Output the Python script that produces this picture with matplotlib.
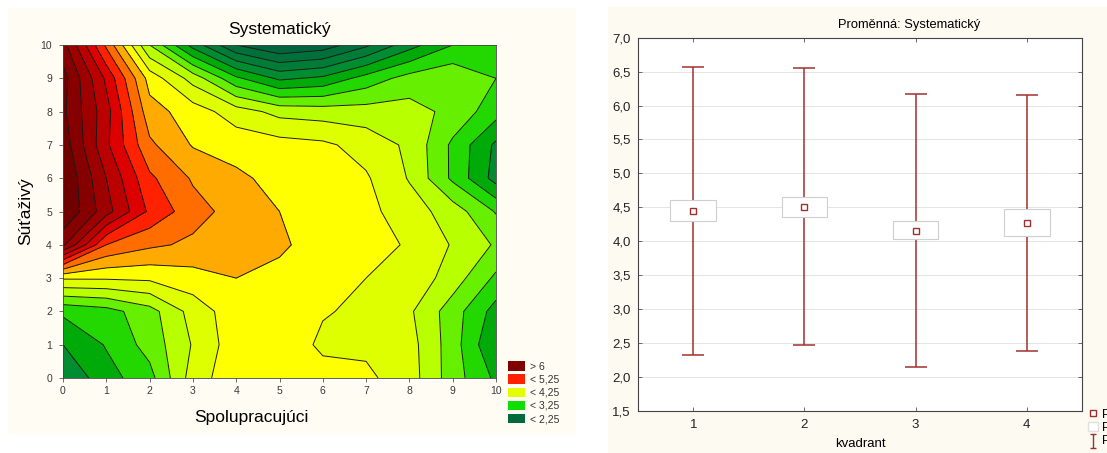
import numpy as np
import matplotlib.pyplot as plt
from matplotlib.patches import Rectangle, Patch
from matplotlib.lines import Line2D
from matplotlib.path import Path

plt.rcParams["font.family"] = ["Liberation Sans", "DejaVu Sans"]

# ---- left panel: contour surface, values on a 0..10 grid
spolupracujuci = np.arange(0, 11)
sutazivy = np.arange(0, 11)
# rows = Súťaživý 0..10, columns = Spolupracujúci 0..10
systematicky = [
    [2.78, 3.15, 3.41, 4.12, 4.42, 4.40, 4.35, 4.30, 4.12, 3.62, 3.20],  # y=0
    [3.00, 3.27, 3.60, 4.02, 4.40, 4.42, 4.20, 4.20, 4.10, 3.62, 3.00],  # y=1
    [3.30, 3.40, 3.65, 4.10, 4.40, 4.42, 4.27, 4.20, 4.04, 3.62, 3.15],  # y=2
    [4.28, 4.28, 4.30, 4.40, 4.50, 4.45, 4.38, 4.25, 4.18, 3.88, 3.45],  # y=3
    [6.05, 5.00, 4.80, 4.70, 4.62, 4.53, 4.42, 4.36, 4.22, 3.98, 3.72],  # y=4
    [6.50, 5.85, 5.20, 4.85, 4.65, 4.50, 4.40, 4.32, 4.12, 3.88, 3.48],  # y=5
    [6.50, 5.75, 5.05, 4.72, 4.55, 4.42, 4.38, 4.28, 3.98, 3.45, 2.90],  # y=6
    [6.40, 5.55, 4.80, 4.48, 4.40, 4.35, 4.30, 4.15, 3.95, 3.45, 2.95],  # y=7
    [6.30, 5.60, 4.60, 4.38, 4.12, 3.92, 3.88, 3.86, 3.85, 3.68, 3.35],  # y=8
    [6.35, 5.45, 4.40, 3.90, 3.30, 2.95, 3.05, 3.35, 3.60, 3.70, 3.50],  # y=9
    [6.10, 4.95, 3.75, 2.90, 2.25, 2.00, 2.10, 2.45, 2.90, 3.25, 3.40],  # y=10
]
contour_levels = [2.0, 2.25, 2.5, 2.75, 3.0, 3.25, 3.5, 3.75, 4.0, 4.25,
                  4.5, 4.75, 5.0, 5.25, 5.5, 5.75, 6.0, 6.25]
band_colors = ["#005a3c", "#00653c", "#00703a", "#007c36", "#008c30",
               "#00aa08", "#22d800", "#66f000", "#b8ff00", "#ddff00",
               "#ffff00", "#ffaa00", "#ff6c00", "#ff2200", "#dd0000",
               "#bb0000", "#9e0000", "#860000", "#700000"]
legend_labels = ["> 6", "< 5,25", "< 4,25", "< 3,25", "< 2,25"]
legend_colors = ["#800000", "#ff2000", "#e4ff00", "#10dd00", "#006a3c"]

# ---- right panel: means with boxes (±SE) and whiskers
kvadrant = [1, 2, 3, 4]
prumer = [4.44, 4.51, 4.15, 4.27]
box_low = [4.29, 4.36, 4.03, 4.07]
box_high = [4.61, 4.645, 4.30, 4.47]
whisk_low = [2.32, 2.47, 2.15, 2.38]
whisk_high = [6.57, 6.55, 6.165, 6.16]
y_ticks = [1.5, 2.0, 2.5, 3.0, 3.5, 4.0, 4.5, 5.0, 5.5, 6.0, 6.5, 7.0]

W, H = 1107, 453
fig = plt.figure(figsize=(W / 100, H / 100), dpi=100)

# cream panel backgrounds
fig.patches.append(Rectangle((8 / W, 1 - 433 / H), 567 / W, 425 / H,
                             transform=fig.transFigure, color="#fefcf3", zorder=-5))
fig.patches.append(Rectangle((608 / W, 0), 499 / W, 1 - 6 / H,
                             transform=fig.transFigure, color="#fcfaf1", zorder=-5))

# ---------------- left: contour map
ax1 = fig.add_axes([63 / W, 1 - 378 / H, 433 / W, 333 / H])
Z = np.array(systematicky)
bounds = [-100] + contour_levels + [100]
ax1.contourf(spolupracujuci, sutazivy, Z, levels=bounds, colors=band_colors)
ax1.contour(spolupracujuci, sutazivy, Z, levels=contour_levels,
            colors="#1a1a1a", linewidths=0.7)
ax1.set_xlim(0, 10); ax1.set_ylim(0, 10)
ax1.set_xticks(spolupracujuci); ax1.set_yticks(sutazivy)
ax1.tick_params(labelsize=7.5, labelcolor="#3a3a3a", length=3, width=0.6,
                color="#555555")
ax1.tick_params(axis="y", pad=5)
ax1.tick_params(axis="x", pad=3)
for s in ax1.spines.values():
    s.set_linewidth(0.6); s.set_color("#444444")
ax1.set_title("Systematický", fontsize=12.5, pad=8)
ax1.set_xlabel("Spolupracujúci", fontsize=12.5)
ax1.set_ylabel("Súťaživý", fontsize=12.5)
ax1.xaxis.set_label_coords(0.436, -0.095)
ax1.yaxis.set_label_coords(-0.07, 0.5)

handles = [Patch(facecolor=c, edgecolor="none") for c in legend_colors]
fig.legend(handles, legend_labels, loc="upper left",
           bbox_to_anchor=(501 / W, 1 - 354 / H), frameon=False,
           fontsize=7.5, handlelength=1.6, handleheight=1.0,
           handletextpad=0.45, labelspacing=0.28, borderpad=0.2,
           labelcolor="#333333")

# ---------------- right: means plot
ax2 = fig.add_axes([637.7 / W, 1 - 410.7 / H, 444.6 / W, 373 / H])
ax2.set_facecolor("white")
err_color = "#a0302f"
m = np.array(prumer)
ax2.errorbar(kvadrant, prumer,
             yerr=[m - np.array(whisk_low), np.array(whisk_high) - m],
             fmt="none", ecolor=err_color, elinewidth=1.1,
             capsize=8, capthick=1.1, zorder=2)
ax2.bar(kvadrant, np.array(box_high) - np.array(box_low), bottom=box_low,
        width=0.41, color="white", edgecolor="#cfcfcf", linewidth=0.8,
        zorder=3)
mk, = ax2.plot(kvadrant, prumer, "s", ms=4.5, mfc="white", mec=err_color,
               mew=1.0, zorder=4)
ax2.set_xlim(0.5, 4.5)
ax2.set_ylim(1.5, 7.0)
ax2.set_xticks(kvadrant)
ax2.set_yticks(y_ticks)
ax2.set_yticklabels([f"{v:.1f}".replace(".", ",") for v in y_ticks])
ax2.yaxis.grid(True, color="#e4e4e4", linewidth=0.7)
ax2.set_axisbelow(True)
ax2.tick_params(direction="in", length=3, width=0.6, labelsize=9.5,
                labelcolor="#222222", color="#555555",
                top=True, right=True)
ax2.tick_params(axis="y", pad=5)
ax2.tick_params(axis="x", pad=6)
for s in ax2.spines.values():
    s.set_linewidth(0.8); s.set_color("#444444")
ax2.set_title("Proměnná: Systematický", fontsize=9.3, pad=7, x=0.61)
ax2.set_xlabel("kvadrant", fontsize=9.5)
ax2.xaxis.set_label_coords(0.5, -0.072)

# legend of the means plot, cut by the right edge as in the source picture
i_beam = Path([(-0.5, -1), (0.5, -1), (0, -1), (0, 1), (-0.5, 1), (0.5, 1)],
              [Path.MOVETO, Path.LINETO, Path.MOVETO, Path.LINETO,
               Path.MOVETO, Path.LINETO])
whisker_handle = Line2D([], [], ls="none", marker=i_beam, ms=10,
                        mec=err_color, mfc="none", mew=1.0)
fig.legend([mk, Patch(facecolor="white", edgecolor="#e0e0e0"), whisker_handle],
           ["Průměr", "Průměr±SmCh", "Průměr±1,96*SmOdch"],
           loc="upper left", bbox_to_anchor=(1080 / W, 1 - 401 / H),
           frameon=False, fontsize=9, handlelength=0.8, handletextpad=0.35,
           labelspacing=0.12, borderpad=0.1)

fig.savefig("out.png", dpi=100)
